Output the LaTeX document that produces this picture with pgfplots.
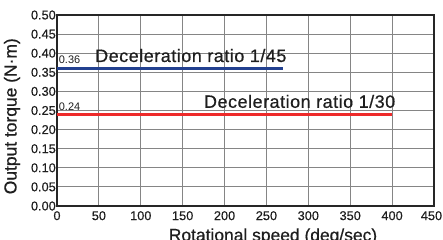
\documentclass[border=0pt]{standalone}
\usepackage{fontspec}
\setmainfont{Liberation Sans}
\usepackage{pgfplots}
\pgfplotsset{compat=1.18}
\definecolor{gridc}{HTML}{858585}
\definecolor{blueL}{HTML}{22408F}
\definecolor{redL}{HTML}{EE2A2A}
\definecolor{txt}{HTML}{1E1E1E}
\newcommand{\lab}{\fontsize{17.5}{19}\selectfont\addfontfeature{FakeBold=0.6}}
\newcommand{\ann}{\fontsize{18}{20}\selectfont\addfontfeature{LetterSpace=3,FakeBold=0.6}}
\newcommand{\tck}{\fontsize{12.8}{14}\selectfont\addfontfeature{FakeBold=0.4}}
\begin{document}
\begin{tikzpicture}
\begin{axis}[
  at={(0,0)}, anchor=south west,
  scale only axis, width=377bp, height=191bp,
  xmin=0, xmax=450, ymin=0, ymax=0.5,
  xtick={0,50,100,150,200,250,300,350,400,450},
  xticklabels={0,50,100,150,200,250,300,350,400,{450\kern5bp}},
  ytick={0,0.05,0.1,0.15,0.2,0.25,0.3,0.35,0.4,0.45,0.5},
  grid=major, major grid style={gridc, line width=0.9pt},
  major tick length=0pt,
  axis line style={line width=1.4pt, color=black!85},
  /pgf/number format/assume math mode=true,
  yticklabel style={/pgf/number format/fixed, /pgf/number format/fixed zerofill, /pgf/number format/precision=2, inner sep=1pt},
  xticklabel style={inner sep=1pt, yshift=-4bp},
  tick label style={font=\tck, text=txt},
  xlabel={Rotational speed (deg/sec)},
  ylabel={Output torque (N·m)},
  every axis x label/.style={at={(axis description cs:0.573,0)}, yshift=-35bp, anchor=base, font=\lab, text=txt},
  every axis y label/.style={at={(axis description cs:0,0.47)}, xshift=-45bp, rotate=90, anchor=center, font=\lab, text=txt},
  clip=false,
]
\addplot[blueL, line width=2.6pt] coordinates {(0,0.36) (270,0.36)};
\addplot[redL, line width=2.6pt] coordinates {(0,0.24) (400,0.24)};
\node[anchor=base west, inner sep=0pt, font=\fontsize{11}{12}\selectfont, text=txt] at (axis cs:2,0.372) {0.36};
\node[anchor=base west, inner sep=0pt, font=\fontsize{11}{12}\selectfont, text=txt] at (axis cs:2,0.251) {0.24};
\node[anchor=base west, inner sep=0pt, font=\ann, text=txt] at (axis cs:45.4,0.377) {Deceleration ratio 1/45};
\node[anchor=base east, inner sep=0pt, font=\ann, text=txt] at (axis cs:404,0.257) {Deceleration ratio 1/30};
\end{axis}
\pgfresetboundingbox
\path (-57bp,-34bp) rectangle (386bp,206bp);
\end{tikzpicture}
\end{document}
